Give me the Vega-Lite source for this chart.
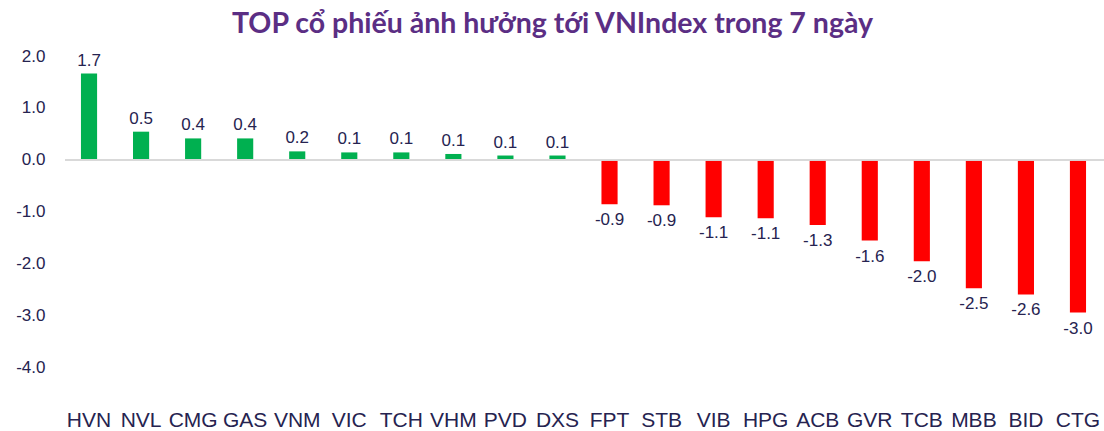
{
  "$schema": "https://vega.github.io/schema/vega-lite/v6.json",
  "width": 1041,
  "height": 311,
  "autosize": {"type": "none"},
  "padding": {"left": 63, "top": 56, "right": 0, "bottom": 64},
  "background": "white",
  "title": {
    "text": "TOP cổ phiếu ảnh hưởng tới VNIndex trong 7 ngày",
    "font": "Lato",
    "fontSize": 28.5,
    "fontWeight": "bold",
    "color": "#5B2E84",
    "anchor": "middle",
    "dx": -31,
    "offset": 9
  },
  "config": {
    "view": {"stroke": null},
    "text": {"font": "Liberation Sans"},
    "locale": {
      "number": {
        "decimal": ".",
        "thousands": ",",
        "grouping": [3],
        "currency": ["$", ""],
        "minus": "-"
      }
    }
  },
  "data": {
    "values": [
      {"code": "HVN", "value": 1.66},
      {"code": "NVL", "value": 0.54},
      {"code": "CMG", "value": 0.41},
      {"code": "GAS", "value": 0.41},
      {"code": "VNM", "value": 0.16},
      {"code": "VIC", "value": 0.14},
      {"code": "TCH", "value": 0.14},
      {"code": "VHM", "value": 0.11},
      {"code": "PVD", "value": 0.08},
      {"code": "DXS", "value": 0.08},
      {"code": "FPT", "value": -0.86},
      {"code": "STB", "value": -0.88},
      {"code": "VIB", "value": -1.11},
      {"code": "HPG", "value": -1.13},
      {"code": "ACB", "value": -1.26},
      {"code": "GVR", "value": -1.56},
      {"code": "TCB", "value": -1.96},
      {"code": "MBB", "value": -2.48},
      {"code": "BID", "value": -2.6},
      {"code": "CTG", "value": -2.95}
    ]
  },
  "encoding": {
    "x": {
      "field": "code",
      "type": "nominal",
      "sort": null,
      "scale": {"paddingInner": 0.69, "paddingOuter": 0.345},
      "axis": {
        "title": null,
        "ticks": false,
        "domain": false,
        "labelAngle": 0,
        "labelFont": "Liberation Sans",
        "labelFontSize": 21,
        "labelColor": "#262350",
        "labelPadding": 42
      }
    },
    "y": {
      "field": "value",
      "type": "quantitative",
      "scale": {"domain": [-4, 2], "nice": false},
      "axis": {
        "title": null,
        "values": [-4, -3, -2, -1, 0, 1, 2],
        "format": ".1f",
        "grid": false,
        "ticks": false,
        "domain": false,
        "labelFont": "Liberation Sans",
        "labelFontSize": 17,
        "labelColor": "#262350",
        "labelPadding": 18
      }
    }
  },
  "layer": [
    {
      "mark": {"type": "bar"},
      "encoding": {
        "color": {
          "condition": {"test": "datum.value > 0", "value": "#00B050"},
          "value": "#FF0000"
        }
      }
    },
    {
      "mark": {"type": "rule", "color": "#D9D9D9", "strokeWidth": 1},
      "encoding": {"x": {"value": 2}, "x2": {"value": 1041}, "y": {"datum": 0}}
    },
    {
      "transform": [{"filter": "datum.value > 0"}],
      "mark": {"type": "text", "baseline": "bottom", "dy": -4, "fontSize": 17, "color": "#262350"},
      "encoding": {"text": {"field": "value", "type": "quantitative", "format": ".1f"}}
    },
    {
      "transform": [{"filter": "datum.value < 0"}],
      "mark": {"type": "text", "baseline": "top", "dy": 8, "fontSize": 17, "color": "#262350"},
      "encoding": {"text": {"field": "value", "type": "quantitative", "format": ".1f"}}
    }
  ]
}
